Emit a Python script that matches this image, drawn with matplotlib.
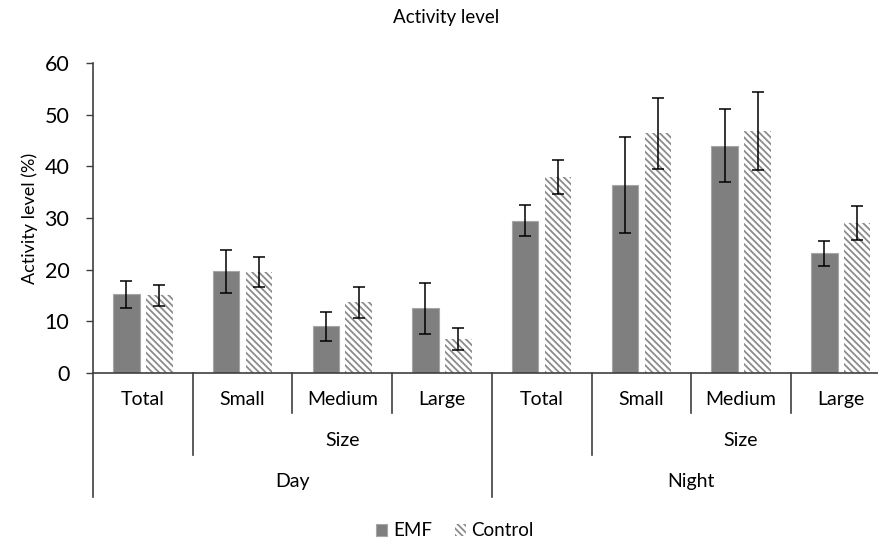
import matplotlib
matplotlib.use("Agg")
import matplotlib.pyplot as plt
import matplotlib.transforms as mtransforms
import numpy as np

plt.rcParams["font.family"] = ["Lato", "DejaVu Sans"]
plt.rcParams["hatch.linewidth"] = 1.3

# data
categories = ["Total", "Small", "Medium", "Large", "Total", "Small", "Medium", "Large"]
emf_mean = [15.2, 19.7, 9.0, 12.5, 29.5, 36.3, 44.0, 23.2]
emf_err = [2.7, 4.2, 2.9, 5.0, 3.0, 9.3, 7.1, 2.4]
control_mean = [15.0, 19.5, 13.7, 6.6, 37.9, 46.4, 46.8, 29.0]
control_err = [2.0, 2.9, 3.0, 2.1, 3.3, 6.9, 7.5, 3.3]
size_groups = [("Size", 1, 3), ("Size", 5, 7)]
period_groups = [("Day", 0, 3), ("Night", 4, 7)]

fig = plt.figure(figsize=(8.79, 5.43), dpi=100)
ax = fig.add_axes([0.1058, 0.3131, 0.9074, 0.5709])

x = np.arange(len(categories))
bw = 0.265
off = 0.165
err_kw = dict(ecolor="black", elinewidth=1.1, capsize=4.2, capthick=1.1)

ax.bar(x - off, emf_mean, bw, yerr=emf_err, color="#7f7f7f",
       edgecolor="#a6a6a6", linewidth=0.8, label="EMF", error_kw=err_kw)
ax.bar(x + off, control_mean, bw, yerr=control_err, color="white",
       edgecolor="#8c8c8c", linewidth=0, hatch="\\\\\\\\\\", label="Control",
       error_kw=err_kw)

ax.set_xlim(-0.5, len(categories) - 0.5)
ax.set_ylim(0, 60)
ax.set_yticks(range(0, 61, 10))
ax.tick_params(axis="y", labelsize=15.5, length=5, width=1, pad=12, color="#404040")
ax.set_xticks([])
for s in ["top", "right"]:
    ax.spines[s].set_visible(False)
for s in ["left", "bottom"]:
    ax.spines[s].set_color("#404040")
    ax.spines[s].set_linewidth(1.2)
ax.set_ylabel("Activity level (%)", fontsize=13, labelpad=5)

# multi-level category axis
trans = mtransforms.blended_transform_factory(ax.transData, ax.transAxes)
ah = 0.5709 * 543
row1, row2, row3 = -40 / ah, -82 / ah, -124 / ah
bounds = {-0.5: row3, 0.5: row2, 1.5: row1, 2.5: row1,
          3.5: row3, 4.5: row2, 5.5: row1, 6.5: row1, 7.5: row3}
for bx, depth in bounds.items():
    ax.plot([bx, bx], [0, depth], color="#404040", lw=1.2,
            transform=trans, clip_on=False)

for xi, lab in zip(x, categories):
    ax.text(xi, -27 / ah, lab, transform=trans, ha="center", va="center",
            fontsize=14)
for lab, a, b in size_groups:
    ax.text((a + b) / 2, -68 / ah, lab, transform=trans, ha="center",
            va="center", fontsize=14)
for lab, a, b in period_groups:
    ax.text((a + b) / 2, -109 / ah, lab, transform=trans, ha="center",
            va="center", fontsize=14)

fig.text(446 / 879, 1 - 17 / 543, "Activity level", ha="center", va="center",
         fontsize=13.5)
fig.legend(loc="center", bbox_to_anchor=(455 / 879, 1 - 531 / 543), ncol=2,
           frameon=False, fontsize=13.5, handlelength=0.6, handleheight=0.6,
           handletextpad=0.3, columnspacing=1.2)

fig.savefig("out.png", dpi=100)
